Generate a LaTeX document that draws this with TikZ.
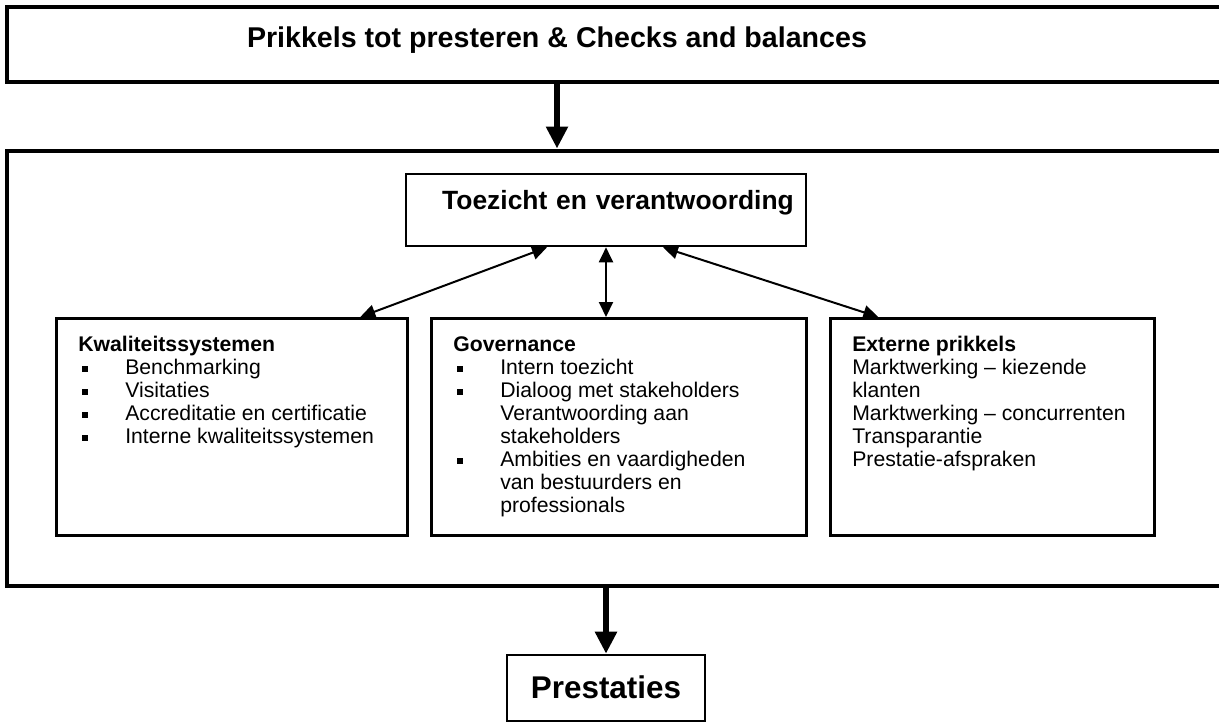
\documentclass[tikz,border=0pt]{standalone}
\usepackage{fontspec}
\setmainfont{Liberation Sans}
\usetikzlibrary{arrows.meta}
\newcommand\sqbul{\makebox[47pt][l]{\hspace{4pt}\rule[2.5pt]{6pt}{6pt}}}
\newcommand\hang{\hspace*{47pt}}
\newcommand\celltext[2]{\parbox[t][181pt][t]{#1}{\raggedright #2}}
\begin{document}
\begin{tikzpicture}[x=1pt,y=-1pt,
  frame/.style={draw, line width=4pt, inner sep=0pt, anchor=north west, minimum width=1240pt},
  headb/.style={draw, line width=2.6pt, inner sep=0pt, align=center, font=\bfseries},
  cellb/.style={draw, line width=2.6pt, anchor=north west, inner xsep=22pt, inner ysep=18pt, font=\fontsize{21.2}{23}\selectfont},
  fat/.style={line width=6pt, -{Triangle[width=21pt,length=22pt]}},
  thin/.style={line width=2pt, {Triangle[width=14pt,length=15pt]}-{Triangle[width=14pt,length=15pt]}}]
\fill[white] (0,0) rectangle (1219,725);
\clip (0,0) rectangle (1219,725);
\node[frame, minimum height=75pt] (top) at (5,5) {};
\node[font=\fontsize{28.6}{32}\selectfont\bfseries, anchor=base] (title) at (557,48) {Prikkels tot presteren \& Checks and balances};
\node[frame, minimum height=435.5pt] (outer) at (5,148.5) {};
\node[headb, anchor=north, text width=400pt, text height=35pt, text depth=37pt, font=\fontsize{26.4}{30}\selectfont\bfseries] (toe) at (606,172.7) {\hspace*{24pt}Toezicht en verantwoording};
\node[cellb] (kwal) at (55,317) {\celltext{307pt}{\textbf{Kwaliteitssystemen}\\
\sqbul Benchmarking\\
\sqbul Visitaties\\
\sqbul Accreditatie en certificatie\\
\sqbul Interne kwaliteitssystemen}};
\node[cellb] (gov) at (430,317) {\celltext{331pt}{\textbf{Governance}\\
\sqbul Intern toezicht\\
\sqbul Dialoog met stakeholders\\
\hang Verantwoording aan\\
\hang stakeholders\\
\sqbul Ambities en vaardigheden\\
\hang van bestuurders en\\
\hang professionals}};
\node[cellb] (ext) at (829,317) {\celltext{280pt}{\textbf{Externe prikkels}\\
Marktwerking -- kiezende\\
klanten\\
Marktwerking -- concurrenten\\
Transparantie\\
Prestatie-afspraken}};
\node[headb, anchor=north, text width=198pt, text height=43pt, text depth=23pt, font=\fontsize{31.4}{34}\selectfont\bfseries] (prest) at (606,653.7) {Prestaties};
\draw[fat] (title.center |- top.south) -- (title.center |- outer.north);
\draw[thin] ([xshift=-59pt]toe.south) -- ([xshift=128.5pt]kwal.north);
\draw[thin] (toe.south) -- (toe.south |- gov.north);
\draw[thin] ([xshift=57pt]toe.south) -- ([xshift=-114pt]ext.north);
\draw[fat] (prest.north |- outer.south) -- (prest.north);
\end{tikzpicture}
\end{document}
